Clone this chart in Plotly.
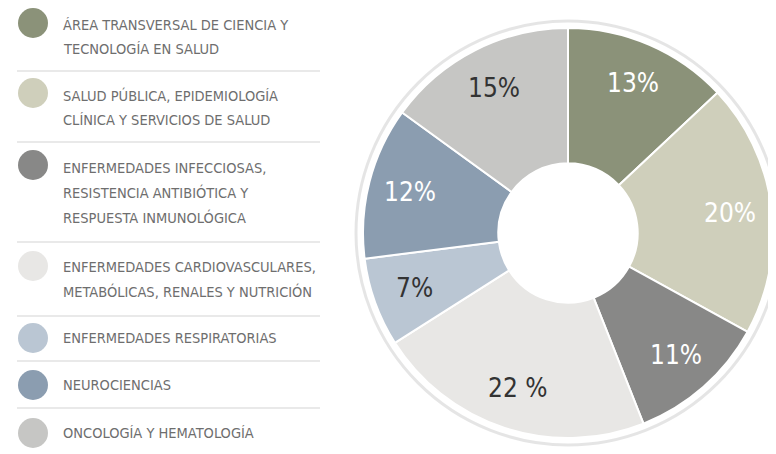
import math
import plotly.graph_objects as go

# ---- data ----
categories = [
    "ÁREA TRANSVERSAL DE CIENCIA Y TECNOLOGÍA EN SALUD",
    "SALUD PÚBLICA, EPIDEMIOLOGÍA CLÍNICA Y SERVICIOS DE SALUD",
    "ENFERMEDADES INFECCIOSAS, RESISTENCIA ANTIBIÓTICA Y RESPUESTA INMUNOLÓGICA",
    "ENFERMEDADES CARDIOVASCULARES, METABÓLICAS, RENALES Y NUTRICIÓN",
    "ENFERMEDADES RESPIRATORIAS",
    "NEUROCIENCIAS",
    "ONCOLOGÍA Y HEMATOLOGÍA",
]
legend_lines = [
    ["ÁREA TRANSVERSAL DE CIENCIA Y", "TECNOLOGÍA EN SALUD"],
    ["SALUD PÚBLICA, EPIDEMIOLOGÍA", "CLÍNICA Y SERVICIOS DE SALUD"],
    ["ENFERMEDADES INFECCIOSAS,", "RESISTENCIA ANTIBIÓTICA Y", "RESPUESTA INMUNOLÓGICA"],
    ["ENFERMEDADES CARDIOVASCULARES,", "METABÓLICAS, RENALES Y NUTRICIÓN"],
    ["ENFERMEDADES RESPIRATORIAS"],
    ["NEUROCIENCIAS"],
    ["ONCOLOGÍA Y HEMATOLOGÍA"],
]
values = [13, 20, 11, 22, 7, 12, 15]
value_labels = ["13%", "20%", "11%", "22 %", "7%", "12%", "15%"]

# ---- styles ----
colors = ["#8b9279", "#cfcfbb", "#888887", "#e8e7e5", "#bac6d3", "#8b9db0", "#c6c6c4"]
text_colors = ["#ffffff", "#ffffff", "#ffffff", "#333333", "#333333", "#ffffff", "#333333"]
FONT = "DejaVu Sans Condensed, Liberation Sans Narrow, Roboto, sans-serif"

# page body has an 8px margin; map screen pixels to paper coords
OFF = 8
W, H = 776 - OFF, 454 - OFF
def px(x):
    return (x - OFF) / W
def py(y):
    return 1 - (y - OFF) / H

cx, cy, R = 568, 233, 205

fig = go.Figure()
fig.add_trace(go.Pie(
    labels=categories,
    values=values,
    textinfo="none",
    sort=False,
    direction="clockwise",
    rotation=0,
    hole=0.34,
    marker=dict(colors=colors, line=dict(color="white", width=2)),
    showlegend=False,
    domain=dict(x=[px(cx - R), px(cx + R)], y=[py(cy + R), py(cy - R)]),
))

annotations = []
# percentage labels placed at slice mid-angles (computed from the values)
total = sum(values)
cum = 0
label_r = 163
for v, lab, tc in zip(values, value_labels, text_colors):
    mid = (cum + v / 2) / total * 2 * math.pi
    cum += v
    lx = cx + label_r * math.sin(mid)
    ly = cy - label_r * math.cos(mid)
    annotations.append(dict(x=px(lx), y=py(ly), xref="paper", yref="paper", text=lab,
                            showarrow=False, xanchor="center", yanchor="middle",
                            font=dict(family=FONT, size=26, color=tc)))

shapes = []
Rr = 212
shapes.append(dict(type="circle", xref="paper", yref="paper",
                   x0=px(cx - Rr), x1=px(cx + Rr), y0=py(cy + Rr), y1=py(cy - Rr),
                   fillcolor="white", line=dict(color="rgba(0,0,0,0.10)", width=3),
                   layer="below"))

# legend layout (screen pixel positions)
first_line_y = [25, 95, 168, 267, 338, 385, 433]
circle_y = [23, 93, 165, 266, 338, 385, 433]
sep_y = [71, 142, 242, 316, 361, 408]
line_gap = 24.5
for i, lines in enumerate(legend_lines):
    r = 15
    shapes.append(dict(type="circle", xref="paper", yref="paper",
                       x0=px(33 - r), x1=px(33 + r), y0=py(circle_y[i] + r), y1=py(circle_y[i] - r),
                       fillcolor=colors[i], line=dict(width=0)))
    for j, t in enumerate(lines):
        annotations.append(dict(x=px(61), y=py(first_line_y[i] + j * line_gap), xref="paper", yref="paper",
                                text=t, showarrow=False, xanchor="left", yanchor="middle",
                                font=dict(family=FONT, size=14.5, color="#6e6e6e")))
for y in sep_y:
    shapes.append(dict(type="line", xref="paper", yref="paper",
                       x0=px(17), x1=px(320), y0=py(y), y1=py(y),
                       line=dict(color="#d4d4d4", width=1.2)))

fig.update_layout(
    width=W, height=H,
    margin=dict(l=0, r=0, t=0, b=0),
    paper_bgcolor="white", plot_bgcolor="white",
    shapes=shapes, annotations=annotations,
)
fig.write_html("out.html")
